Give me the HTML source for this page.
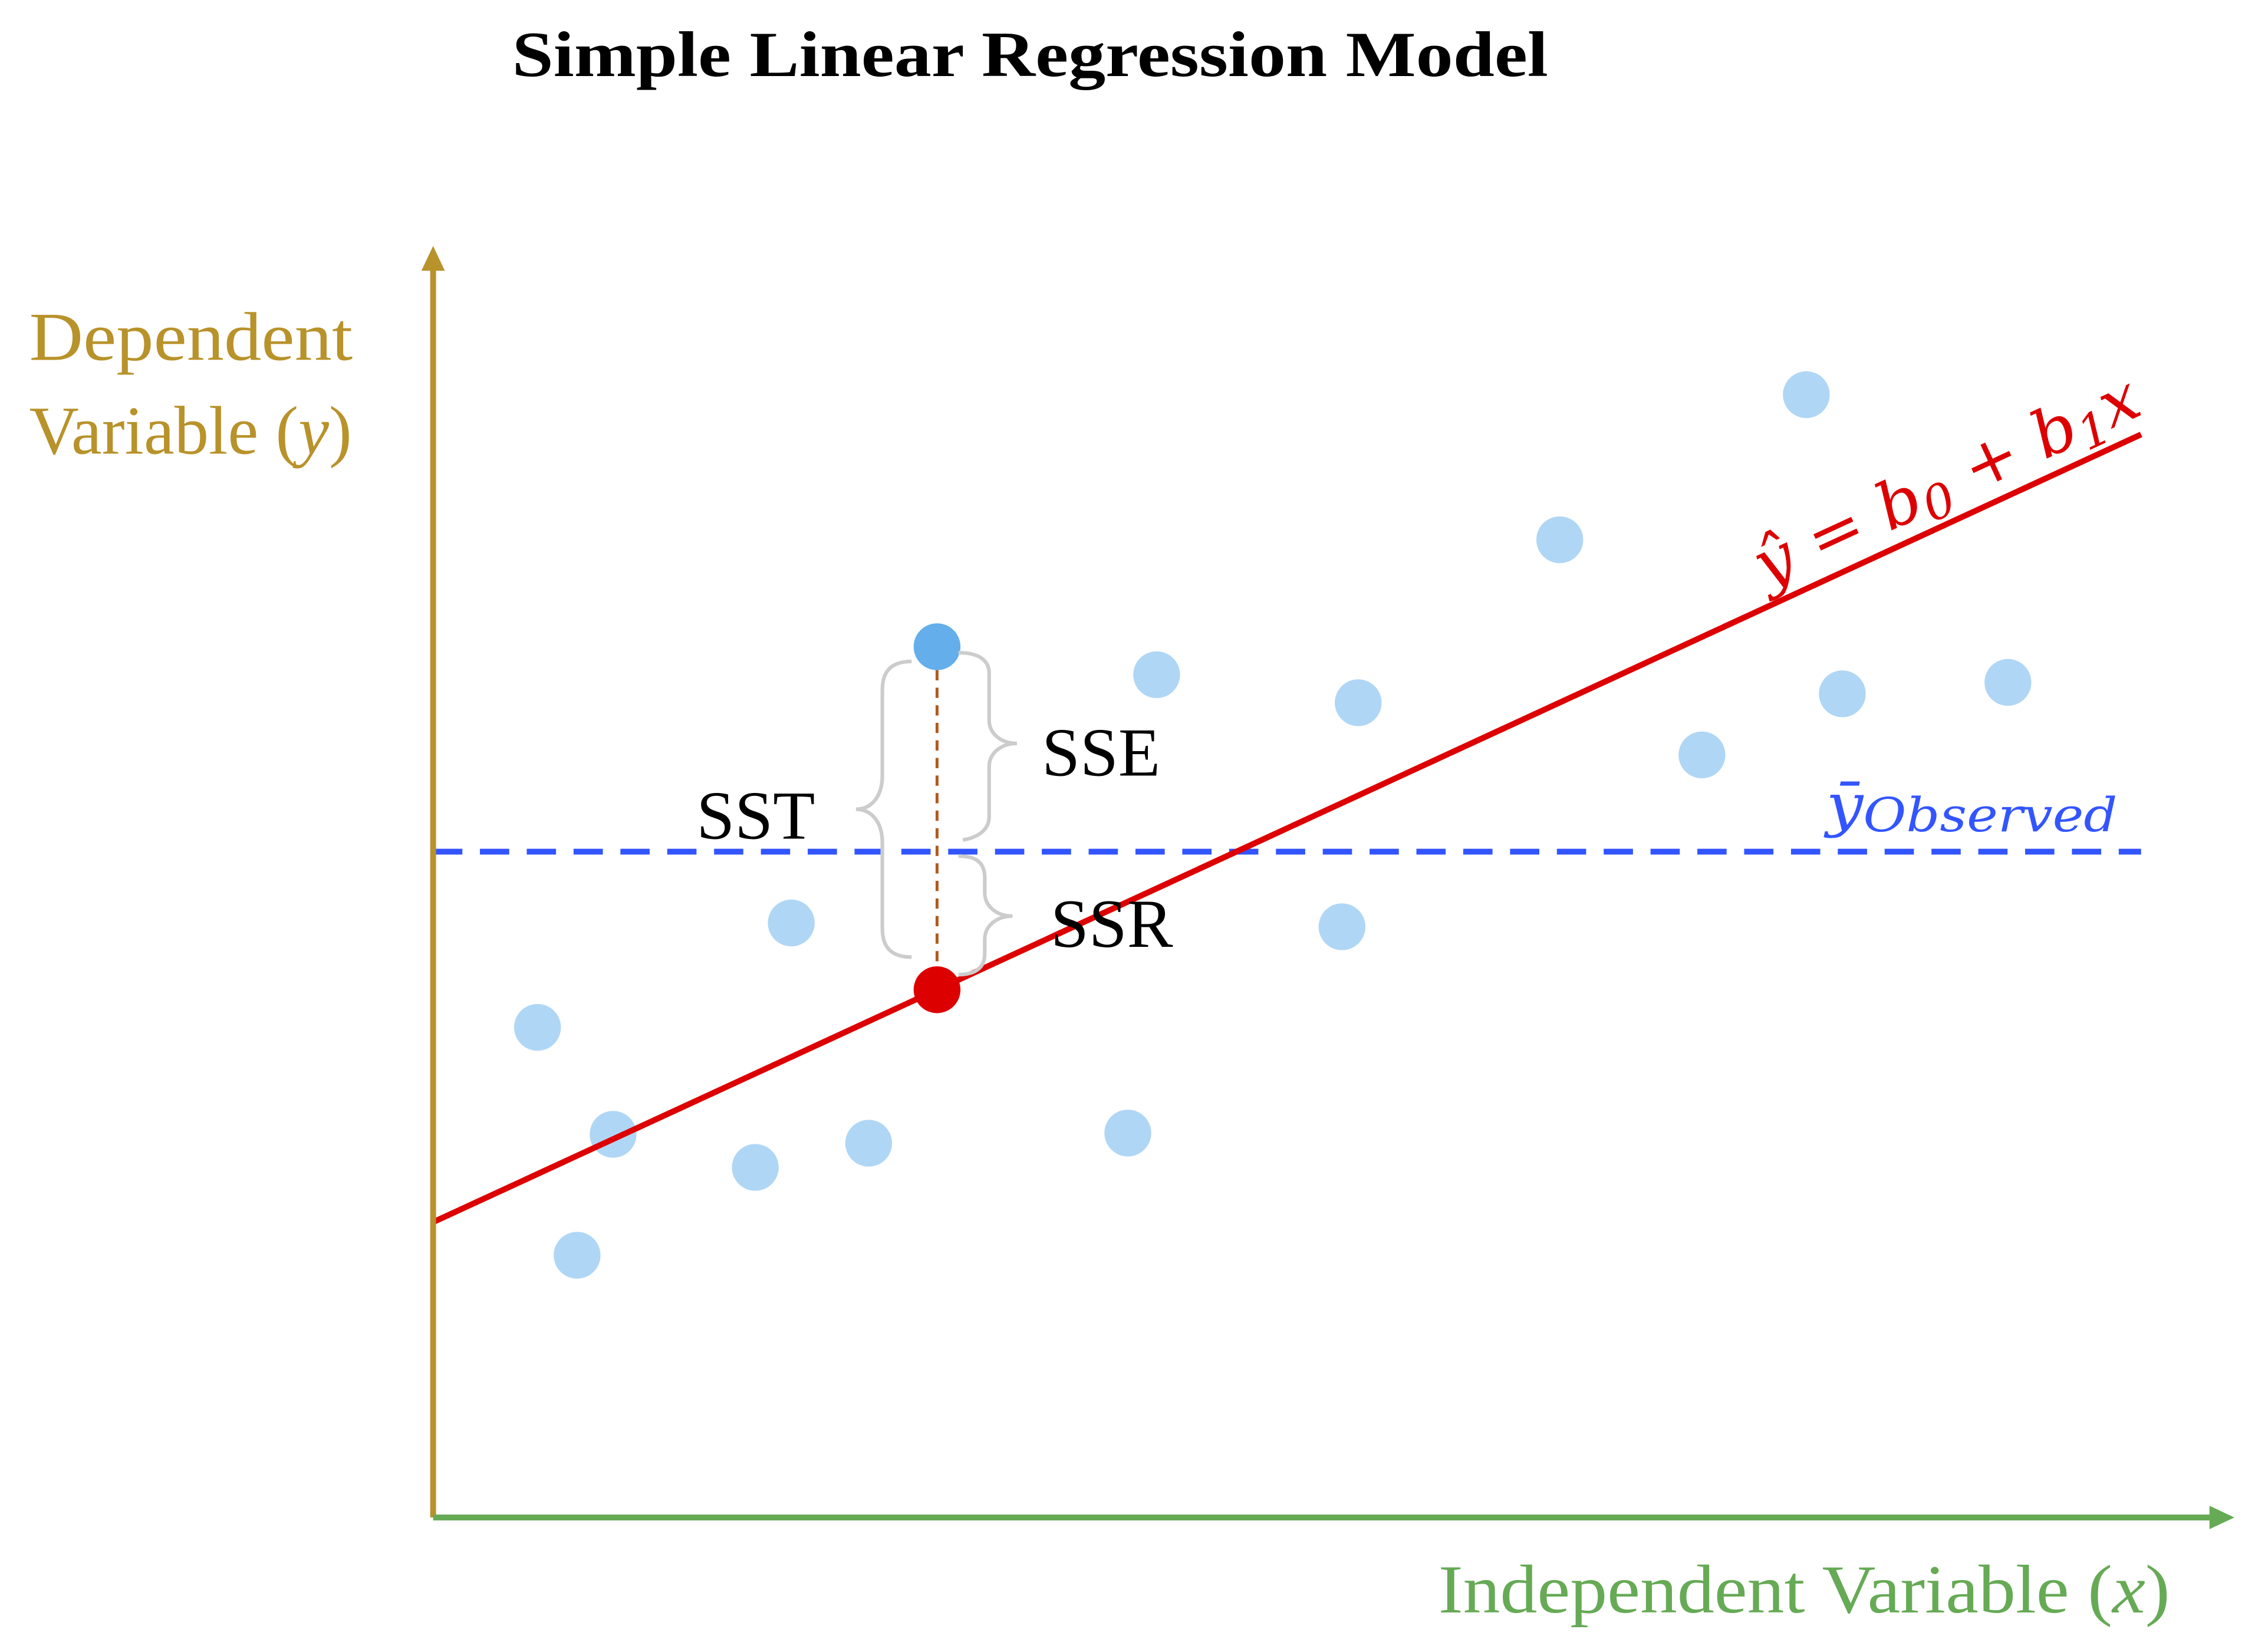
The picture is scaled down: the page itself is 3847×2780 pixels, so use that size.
<!DOCTYPE html>
<html><head><meta charset="utf-8"><style>
html,body{margin:0;padding:0;background:#fff;}
svg{display:block;}
</style></head><body>
<svg id="chart" width="3847" height="2780" viewBox="0 0 1550 1120" xmlns="http://www.w3.org/2000/svg">
<text x="350" y="52" font-family="Liberation Serif, serif" font-weight="bold" font-size="44" textLength="708" lengthAdjust="spacingAndGlyphs">Simple Linear Regression Model</text>
<g id="plot"></g>
<g>
<line x1="296" y1="1037" x2="296" y2="180" stroke="#b8922a" stroke-width="4"/>
<path d="M288,185 L296,168 L304,185 Z" fill="#b8922a"/>
</g>
<g>
<line x1="296" y1="1037" x2="1515" y2="1037" stroke="#66aa55" stroke-width="4"/>
<path d="M1510,1029 L1527,1037 L1510,1045 Z" fill="#66aa55"/>
</g>
<text x="20" y="246" font-family="Liberation Serif, serif" font-size="47" fill="#b8922a" textLength="221" lengthAdjust="spacingAndGlyphs">Dependent</text>
<text x="20" y="310" font-family="Liberation Serif, serif" font-size="47" fill="#b8922a">Variable (<tspan font-style="italic">y</tspan>)</text>
<text x="983" y="1102" font-family="Liberation Serif, serif" font-size="47" fill="#66aa55" textLength="500" lengthAdjust="spacingAndGlyphs">Independent Variable (<tspan font-style="italic">x</tspan>)</text>
<path d="M623,452 C606,452 603,462 603,472 L603,530 C603,545 595,553 585,553 C595,553 603,561 603,576 L603,634 C603,644 606,654 623,654" fill="none" stroke="#cccccc" stroke-width="2.5"/>
<path d="M655,446 C670,446 676,452 676,460 L676,492 C676,502 685,508 695,508 C685,508 676,514 676,524 L676,558 C676,566 670,572 658,574" fill="none" stroke="#cccccc" stroke-width="2.5"/>
<path d="M655,585 C668,585 673,590 673,600 L673,610 C673,620 682,626 692,626 C682,626 673,632 673,642 L673,652 C673,660 668,666 655,666" fill="none" stroke="#cccccc" stroke-width="2.5"/>
<text x="476" y="573" font-family="Liberation Serif, serif" font-size="47">SST</text>
<text x="712" y="530" font-family="Liberation Serif, serif" font-size="47">SSE</text>
<text x="718" y="647" font-family="Liberation Serif, serif" font-size="47">SSR</text>
<text transform="translate(1207,402) rotate(-24.8)" font-family="DejaVu Serif, serif" font-style="italic" font-size="44" fill="#dd0000" textLength="285" lengthAdjust="spacingAndGlyphs">ŷ = b<tspan font-size="32" dy="7">0</tspan><tspan dy="-7"> + b</tspan><tspan font-size="32" dy="7">1</tspan><tspan dy="-7">x</tspan></text>
<text x="1248" y="564" font-family="DejaVu Serif, serif" font-style="italic" font-size="40" fill="#3355ff" textLength="199" lengthAdjust="spacingAndGlyphs">ȳ<tspan font-size="32" dy="4">Observed</tspan></text>
</svg>
<script>
const xs = [5.8, 8.0, 10.0, 17.9, 19.9, 24.2, 38.6, 40.2, 50.5, 51.4, 62.6, 70.5, 76.3, 78.3, 87.5];
const ys = [38.5, 20.6, 30.1, 27.5, 46.7, 29.4, 30.2, 66.2, 46.4, 64.0, 76.8, 59.9, 88.2, 64.7, 65.6];
const highlightX = [28.0];
const highlightY = [68.4];
const intercept = [23.2];
const slope = [0.652];
const meanY = [52.3];
const lineRange = [0, 94.9];

function sx(v){ return 296 + v * 12.3; }
function sy(v){ return 1037 - v * 8.7; }
const NS = 'http://www.w3.org/2000/svg';
const g = document.getElementById('plot');
function mk(tag, attrs){ const e = document.createElementNS(NS, tag); for (const k in attrs) e.setAttribute(k, attrs[k]); g.appendChild(e); return e; }

let m = mk('line', {x1: sx(lineRange[0]), x2: sx(lineRange[1]), y1: sy(meanY[0]), y2: sy(meanY[0]), stroke: '#3355ff', 'stroke-width': 4, 'stroke-dasharray': '20,12'});



xs.forEach((x, i) => {
  const c = mk('circle', {cx: sx(x), cy: sy(ys[i]), r: 16, fill: '#b0d6f5'});
  
  
});

let r = mk('line', {x1: sx(lineRange[0]), y1: sy(intercept[0] + slope[0]*lineRange[0]), x2: sx(lineRange[1]), y2: sy(intercept[0] + slope[0]*lineRange[1]), stroke: '#dd0000', 'stroke-width': 4});



const fitY = intercept[0] + slope[0]*highlightX[0];
let res = mk('line', {x1: sx(highlightX[0]), x2: sx(highlightX[0]), y1: sy(highlightY[0]) + 16, y2: sy(fitY) - 14, stroke: '#b05a20', 'stroke-width': 2, 'stroke-dasharray': '7,5'});



let hp = mk('circle', {cx: sx(highlightX[0]), cy: sy(highlightY[0]), r: 16, fill: '#63aeeb'});


let fp = mk('circle', {cx: sx(highlightX[0]), cy: sy(fitY), r: 16, fill: '#dd0000'});


</script>
</body></html>
